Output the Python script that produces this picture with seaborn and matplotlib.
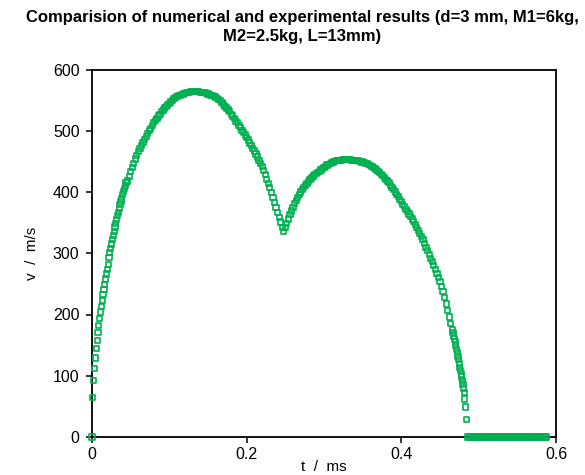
import numpy as np
import pandas as pd
import matplotlib
matplotlib.use("Agg")
import matplotlib.pyplot as plt
import seaborn as sns

# ---------------- data ----------------
# start of the curve: individual markers (t in ms, v in m/s)
t_start = [0.0, 0.0011, 0.0022, 0.0033, 0.0044, 0.0055, 0.0066, 0.0077, 0.0088, 0.0099,
           0.0110, 0.0121, 0.0132, 0.0143, 0.0154, 0.0165, 0.0176, 0.0187, 0.0198, 0.0209,
           0.0220, 0.0231, 0.0242, 0.0253, 0.0264, 0.0275, 0.0286, 0.0297, 0.0308, 0.0319,
           0.0330, 0.0341, 0.0352, 0.0363, 0.0374, 0.0385, 0.0396, 0.0407, 0.0418, 0.0429,
           0.0440]
v_start = [0, 65, 92, 112, 129, 144, 158, 170, 182, 193,
           204, 213, 223, 232, 241, 249, 258, 266, 274, 282,
           293, 301, 308, 315, 322, 329, 336, 343, 349, 355,
           361, 367, 373, 379, 385, 390, 396, 401, 406, 411,
           416]

# main part of the curve (two humps)
t_main = [0.046, 0.048, 0.050, 0.052, 0.054, 0.056, 0.058, 0.060, 0.062, 0.064,
          0.066, 0.068, 0.070, 0.072, 0.074, 0.076, 0.078, 0.080, 0.082, 0.084,
          0.086, 0.088, 0.090, 0.092, 0.094, 0.096, 0.098, 0.100, 0.102, 0.104,
          0.106, 0.108, 0.110, 0.112, 0.114, 0.116, 0.118, 0.120, 0.122, 0.124,
          0.126, 0.128, 0.130, 0.132, 0.134, 0.136, 0.138, 0.140, 0.142, 0.144,
          0.146, 0.148, 0.150, 0.152, 0.154, 0.156, 0.158, 0.160, 0.162, 0.164,
          0.166, 0.168, 0.170, 0.172, 0.174, 0.176, 0.178, 0.180, 0.182, 0.184,
          0.186, 0.188, 0.190, 0.192, 0.194, 0.196, 0.198, 0.200, 0.202, 0.204,
          0.206, 0.208, 0.210, 0.212, 0.214, 0.216, 0.218, 0.220, 0.222, 0.224,
          0.226, 0.228, 0.230, 0.232, 0.234, 0.236, 0.238, 0.240, 0.242, 0.244,
          0.246, 0.248, 0.250, 0.252, 0.254, 0.256, 0.258, 0.260, 0.262, 0.264,
          0.266, 0.268, 0.270, 0.272, 0.274, 0.276, 0.278, 0.280, 0.282, 0.284,
          0.286, 0.288, 0.290, 0.292, 0.294, 0.296, 0.298, 0.300, 0.302, 0.304,
          0.306, 0.308, 0.310, 0.312, 0.314, 0.316, 0.318, 0.320, 0.322, 0.324,
          0.326, 0.328, 0.330, 0.332, 0.334, 0.336, 0.338, 0.340, 0.342, 0.344,
          0.346, 0.348, 0.350, 0.352, 0.354, 0.356, 0.358, 0.360, 0.362, 0.364,
          0.366, 0.368, 0.370, 0.372, 0.374, 0.376, 0.378, 0.380, 0.382, 0.384,
          0.386, 0.388, 0.390, 0.392, 0.394, 0.396, 0.398, 0.400, 0.402, 0.404,
          0.406, 0.408, 0.410, 0.412, 0.414, 0.416, 0.418, 0.420, 0.422, 0.424,
          0.426, 0.428, 0.430, 0.432, 0.434, 0.436, 0.438, 0.440, 0.442, 0.444,
          0.446, 0.448, 0.450, 0.452, 0.454, 0.456, 0.458, 0.460, 0.462, 0.464,
          0.466]
v_main = [418, 425, 433, 440, 447, 454, 460, 466, 471, 476,
          481, 486, 491, 495, 500, 504, 509, 513, 517, 520,
          524, 527, 531, 534, 537, 540, 542, 545, 547, 550,
          552, 554, 556, 557, 558, 559, 560, 561, 562, 563,
          563, 564, 564, 564, 564, 564, 564, 563, 563, 562,
          562, 561, 560, 559, 558, 557, 556, 555, 553, 551,
          549, 546, 543, 540, 537, 534, 531, 527, 524, 520,
          516, 513, 509, 505, 501, 497, 493, 489, 485, 480,
          476, 471, 467, 462, 457, 452, 447, 441, 435, 428,
          421, 414, 407, 399, 391, 383, 375, 367, 359, 351,
          342, 336, 342, 349, 356, 363, 369, 375, 381, 386,
          391, 396, 400, 404, 408, 411, 414, 417, 420, 423,
          426, 428, 430, 432, 434, 436, 438, 440, 442, 444,
          445, 447, 448, 449, 450, 451, 451, 452, 452, 453,
          453, 453, 453, 453, 453, 452, 452, 452, 451, 451,
          450, 449, 449, 448, 447, 446, 445, 443, 442, 440,
          438, 436, 434, 432, 429, 427, 424, 421, 418, 415,
          411, 408, 404, 400, 396, 392, 388, 384, 380, 376,
          372, 368, 364, 360, 356, 352, 347, 342, 337, 332,
          327, 322, 316, 310, 304, 298, 292, 286, 280, 274,
          267, 261, 254, 246, 237, 228, 217, 206, 196, 185,
          175]

# steep drop at the end: individual markers
t_end = [0.4669, 0.4678, 0.4687, 0.4696, 0.4705, 0.4714, 0.4723, 0.4732, 0.4741, 0.4749,
         0.4757, 0.4765, 0.4773, 0.4781, 0.4789, 0.4797, 0.4805, 0.4812, 0.4820, 0.4830,
         0.4845]
v_end = [170, 165, 160, 155, 149, 143, 138, 132, 126, 120,
         114, 108, 103, 98, 92, 86, 80, 73, 62, 49,
         29]

# zero tail
t_zero = [0.486, 0.488, 0.490, 0.492, 0.494, 0.496, 0.498, 0.500, 0.502, 0.504,
          0.506, 0.508, 0.510, 0.512, 0.514, 0.516, 0.518, 0.520, 0.522, 0.524,
          0.526, 0.528, 0.530, 0.532, 0.534, 0.536, 0.538, 0.540, 0.542, 0.544,
          0.546, 0.548, 0.550, 0.552, 0.554, 0.556, 0.558, 0.560, 0.562, 0.564,
          0.566, 0.568, 0.570, 0.572, 0.574, 0.576, 0.578, 0.580, 0.582, 0.584,
          0.586, 0.588]
v_zero = [0] * len(t_zero)

x_ticks = [0, 0.2, 0.4, 0.6]
x_tick_labels = ["0", "0.2", "0.4", "0.6"]
y_ticks = [0, 100, 200, 300, 400, 500, 600]

title_text = ("Comparision of numerical and experimental results (d=3 mm, M1=6kg,\n"
              "M2=2.5kg, L=13mm)")
x_label = "t  /  ms"
y_label = "v  /  m/s"

# ---------------- plot ----------------
sns.set_style("ticks")
plt.rcParams["font.family"] = ["Liberation Sans", "DejaVu Sans"]
plt.rcParams["text.color"] = "black"
plt.rcParams["axes.labelcolor"] = "black"

assert len(t_start) == len(v_start)
assert len(t_main) == len(v_main)
assert len(t_end) == len(v_end)

df = pd.DataFrame({
    "t": t_start + t_main + t_end + t_zero,
    "v": v_start + v_main + v_end + v_zero,
})

fig = plt.figure(figsize=(5.85, 4.75), dpi=100)
ax = fig.add_axes([92 / 585, 38 / 475, 464 / 585, 367.5 / 475])

green = "#00B050"
sns.scatterplot(data=df, x="t", y="v", marker="s", s=14,
                facecolors="none", edgecolors=green, linewidth=1.2,
                legend=False, ax=ax, clip_on=False, zorder=3)

ax.set_xlim(0, 0.6)
ax.set_ylim(0, 600)
ax.set_xticks(x_ticks)
ax.set_xticklabels(x_tick_labels)
ax.set_yticks(y_ticks)

for sp in ax.spines.values():
    sp.set_visible(True)
    sp.set_color("black")
    sp.set_linewidth(1.3)

ax.tick_params(axis="both", direction="out", length=4, width=1.1, colors="black",
               labelsize=11.5, top=False, right=False)
ax.tick_params(axis="y", pad=5)
ax.tick_params(axis="x", pad=3)

ax.set_xlabel(x_label, fontsize=11, labelpad=-1, color="black")
ax.set_ylabel(y_label, fontsize=11, labelpad=10, color="black")

fig.text(302 / 585, 1 - 10 / 475, title_text, ha="center", va="top", color="black",
         fontsize=12, fontweight="bold", linespacing=1.3)

fig.savefig("out.png", dpi=100, facecolor="white")
